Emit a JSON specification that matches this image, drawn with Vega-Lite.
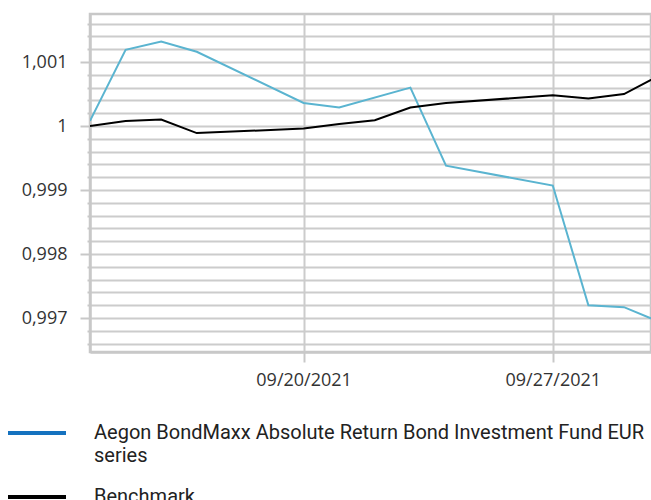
{
  "$schema": "https://vega.github.io/schema/vega-lite/v6.json",
  "width": 561,
  "height": 338,
  "autosize": "none",
  "padding": {"left": 90, "top": 14, "right": 0, "bottom": 148},
  "background": "white",
  "config": {
    "view": {"stroke": "#c8c8c8", "strokeWidth": 2.5},
    "font": "Open Sans"
  },
  "data": {
    "values": [
      {"date": "2021-09-14", "series": "Aegon BondMaxx Absolute Return Bond Investment Fund EUR series", "value": 1.00008},
      {"date": "2021-09-15", "series": "Aegon BondMaxx Absolute Return Bond Investment Fund EUR series", "value": 1.00119},
      {"date": "2021-09-16", "series": "Aegon BondMaxx Absolute Return Bond Investment Fund EUR series", "value": 1.00132},
      {"date": "2021-09-17", "series": "Aegon BondMaxx Absolute Return Bond Investment Fund EUR series", "value": 1.00116},
      {"date": "2021-09-20", "series": "Aegon BondMaxx Absolute Return Bond Investment Fund EUR series", "value": 1.00036},
      {"date": "2021-09-21", "series": "Aegon BondMaxx Absolute Return Bond Investment Fund EUR series", "value": 1.00029},
      {"date": "2021-09-23", "series": "Aegon BondMaxx Absolute Return Bond Investment Fund EUR series", "value": 1.0006},
      {"date": "2021-09-24", "series": "Aegon BondMaxx Absolute Return Bond Investment Fund EUR series", "value": 0.99938},
      {"date": "2021-09-27", "series": "Aegon BondMaxx Absolute Return Bond Investment Fund EUR series", "value": 0.99907},
      {"date": "2021-09-28", "series": "Aegon BondMaxx Absolute Return Bond Investment Fund EUR series", "value": 0.9972},
      {"date": "2021-09-29", "series": "Aegon BondMaxx Absolute Return Bond Investment Fund EUR series", "value": 0.99717},
      {"date": "2021-09-30", "series": "Aegon BondMaxx Absolute Return Bond Investment Fund EUR series", "value": 0.99694},
      {"date": "2021-09-14", "series": "Benchmark", "value": 1.0},
      {"date": "2021-09-15", "series": "Benchmark", "value": 1.00008},
      {"date": "2021-09-16", "series": "Benchmark", "value": 1.0001},
      {"date": "2021-09-17", "series": "Benchmark", "value": 0.99989},
      {"date": "2021-09-20", "series": "Benchmark", "value": 0.99996},
      {"date": "2021-09-21", "series": "Benchmark", "value": 1.00003},
      {"date": "2021-09-22", "series": "Benchmark", "value": 1.00009},
      {"date": "2021-09-23", "series": "Benchmark", "value": 1.00029},
      {"date": "2021-09-24", "series": "Benchmark", "value": 1.00036},
      {"date": "2021-09-27", "series": "Benchmark", "value": 1.00048},
      {"date": "2021-09-28", "series": "Benchmark", "value": 1.00043},
      {"date": "2021-09-29", "series": "Benchmark", "value": 1.0005},
      {"date": "2021-09-30", "series": "Benchmark", "value": 1.00079}
    ]
  },
  "encoding": {
    "x": {
      "field": "date",
      "type": "temporal",
      "scale": {
        "type": "utc",
        "domain": [
          {"year": 2021, "month": 9, "date": 14, "utc": true},
          {"year": 2021, "month": 9, "date": 29, "hours": 18, "minutes": 13, "utc": true}
        ]
      },
      "axis": {
        "title": null,
        "values": [
          {"year": 2021, "month": 9, "date": 20, "utc": true},
          {"year": 2021, "month": 9, "date": 27, "utc": true}
        ],
        "labelExpr": "utcFormat(datum.value, '%m/%d/%Y')",
        "grid": true,
        "gridColor": "#cccccc",
        "gridWidth": 2,
        "domainColor": "#c8c8c8",
        "domainWidth": 2.5,
        "tickColor": "#c8c8c8",
        "tickWidth": 2,
        "tickSize": 10,
        "labelFont": "Open Sans",
        "labelFontSize": 18,
        "labelColor": "#333333",
        "labelPadding": 9,
        "labelFlush": false
      }
    },
    "y": {
      "field": "value",
      "type": "quantitative",
      "scale": {"domain": [0.99647, 1.00175], "zero": false, "nice": false},
      "axis": {
        "title": null,
        "values": [0.9966, 0.9968, 0.997, 0.9972, 0.9974, 0.9976, 0.9978, 0.998, 0.9982, 0.9984, 0.9986, 0.9988, 0.999, 0.9992, 0.9994, 0.9996, 0.9998, 1, 1.0002, 1.0004, 1.0006, 1.0008, 1.001, 1.0012, 1.0014, 1.0016],
        "labelExpr": "abs(datum.value*1000 - round(datum.value*1000)) < 0.01 ? replace(format(datum.value, '.4~f'), '.', ',') : ''",
        "grid": true,
        "gridColor": "#cccccc",
        "gridWidth": 2,
        "domainColor": "#c8c8c8",
        "domainWidth": 2.5,
        "tickColor": "#c8c8c8",
        "tickWidth": 2,
        "tickSize": {"condition": {"test": "abs(datum.value*1000 - round(datum.value*1000)) < 0.01", "value": 10}, "value": 3},
        "labelFont": "Open Sans",
        "labelFontSize": 18,
        "labelColor": "#333333",
        "labelPadding": 13,
        "labelOverlap": false
      }
    }
  },
  "layer": [
    {
      "mark": {"type": "line", "clip": true, "strokeWidth": 2},
      "encoding": {
        "stroke": {
          "field": "series",
          "type": "nominal",
          "scale": {
            "domain": ["Benchmark", "Aegon BondMaxx Absolute Return Bond Investment Fund EUR series"],
            "range": ["#000000", "#5ab4d0"]
          },
          "legend": null
        }
      }
    },
    {
      "transform": [{"filter": "datum.value > 5"}],
      "mark": {"type": "line", "clip": true, "strokeWidth": 4},
      "encoding": {
        "color": {
          "field": "series",
          "type": "nominal",
          "scale": {
            "domain": ["Aegon BondMaxx Absolute Return Bond Investment Fund EUR series", "Benchmark"],
            "range": ["#1572bf", "#000000"]
          },
          "legend": {
            "title": null,
            "orient": "none",
            "legendX": -84,
            "legendY": 388,
            "padding": 0,
            "symbolType": "stroke",
            "symbolSize": 3364,
            "symbolStrokeWidth": 4,
            "labelOffset": 26,
            "labelFont": "Roboto",
            "labelFontSize": 20,
            "labelColor": "#222222",
            "labelLimit": 600,
            "rowPadding": 0,
            "labelExpr": "datum.label == 'Benchmark' ? 'Benchmark' : ['Aegon BondMaxx Absolute Return Bond Investment Fund EUR', 'series']",
            "encode": {
              "labels": {"update": {"lineHeight": {"value": 23}}}
            }
          }
        }
      }
    }
  ]
}
